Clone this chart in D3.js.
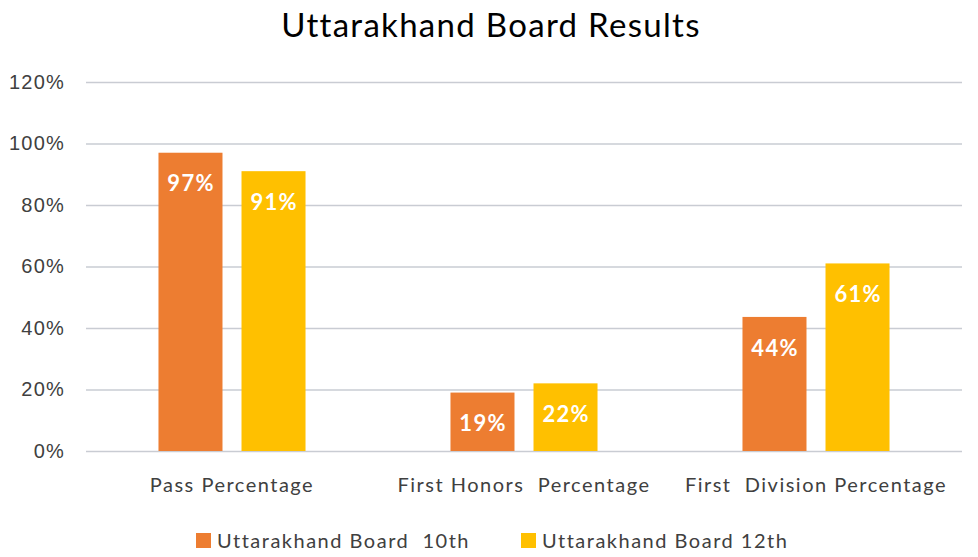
<!DOCTYPE html>
<html>
<head>
<meta charset="utf-8">
<script src="https://cdn.jsdelivr.net/npm/d3@7"></script>
<style>
  body { margin: 0; background: #fff; }
  svg { display: block; font-family: Lato, "Open Sans", sans-serif; }
</style>
</head>
<body>
<svg id="chart"></svg>
<script>
// Chart data
const categories = ["Pass Percentage", "First Honors  Percentage", "First  Division Percentage"];
const seriesNames = ["Uttarakhand Board  10th", "Uttarakhand Board 12th"];
const board10th = [0.97, 0.19, 0.436];
const board12th = [0.91, 0.22, 0.61];
const yTicks = [0, 0.2, 0.4, 0.6, 0.8, 1.0, 1.2];
const colors = ["#ED7D31", "#FFC000"];

const width = 978;
const height = 557;

const svg = d3.select("#chart")
    .attr("width", width)
    .attr("height", height);

// Scales
const x0 = d3.scaleBand()
    .domain(categories)
    .range([86, 962])
    .padding(0);

const x1 = d3.scaleBand()
    .domain(seriesNames)
    .range([0, x0.bandwidth()])
    .paddingInner(0.229)
    .paddingOuter(0.873);

const y = d3.scaleLinear()
    .domain([0, 1.2])
    .range([451, 82]);

// Title
svg.append("text")
    .attr("x", 491)
    .attr("y", 37)
    .attr("text-anchor", "middle")
    .style("font-size", "33px")
    .style("letter-spacing", "1.3px")
    .style("fill", "#000")
    .text("Uttarakhand Board Results");

// Gridlines and y labels
const yAxis = d3.axisLeft(y)
    .tickValues(yTicks)
    .tickSize(-(962 - 86))
    .tickPadding(21)
    .tickFormat(d3.format(".0%"));

const gy = svg.append("g")
    .attr("transform", "translate(86,0)")
    .call(yAxis);
gy.select(".domain").remove();
gy.selectAll(".tick line")
    .attr("stroke", "#c9ccd3")
    .attr("stroke-width", 1.5);
gy.selectAll(".tick text")
    .style("font-size", "20px")
    .style("letter-spacing", "1.2px")
    .style("fill", "#404040");

// Bars
const rows = categories.map((c, i) => ({
    category: c,
    values: [board10th[i], board12th[i]]
}));

const groups = svg.selectAll(".group")
    .data(rows)
    .enter()
    .append("g")
    .attr("class", "group")
    .attr("transform", d => `translate(${x0(d.category)},0)`);

groups.selectAll("rect")
    .data(d => d.values.map((v, j) => ({ key: seriesNames[j], value: v, color: colors[j] })))
    .enter()
    .append("rect")
    .attr("x", d => x1(d.key))
    .attr("y", d => y(d.value))
    .attr("width", x1.bandwidth())
    .attr("height", d => y(0) - y(d.value))
    .attr("fill", d => d.color);

// Value labels inside bars
groups.selectAll(".val")
    .data(d => d.values.map((v, j) => ({ key: seriesNames[j], value: v })))
    .enter()
    .append("text")
    .attr("class", "val")
    .attr("x", d => x1(d.key) + x1.bandwidth() / 2 + 0.6)
    .attr("y", d => y(d.value) + 31)
    .attr("dy", "0.35em")
    .attr("text-anchor", "middle")
    .style("font-size", "22px")
    .style("font-weight", "bold")
    .style("letter-spacing", "1.3px")
    .style("fill", "#fff")
    .text(d => `${Math.round(d.value * 100)}%`);

// Category labels
svg.selectAll(".cat")
    .data(categories)
    .enter()
    .append("text")
    .attr("class", "cat")
    .attr("x", d => x0(d) + x0.bandwidth() / 2)
    .attr("y", 485)
    .attr("dy", "0.35em")
    .attr("text-anchor", "middle")
    .style("font-size", "20px")
    .style("letter-spacing", "1.5px")
    .style("fill", "#404040")
    .style("white-space", "pre")
    .text(d => d);

// Legend
const legendX = [196, 521];
const legend = svg.selectAll(".legend-item")
    .data(seriesNames)
    .enter()
    .append("g")
    .attr("class", "legend-item")
    .attr("transform", (d, i) => `translate(${legendX[i]}, 533)`);

legend.append("rect")
    .attr("width", 15)
    .attr("height", 15)
    .attr("fill", (d, i) => colors[i]);

legend.append("text")
    .attr("x", 21)
    .attr("y", 8)
    .attr("dy", "0.35em")
    .style("font-size", "20px")
    .style("letter-spacing", "1.5px")
    .style("fill", "#404040")
    .style("white-space", "pre")
    .text(d => d);
</script>
</body>
</html>
